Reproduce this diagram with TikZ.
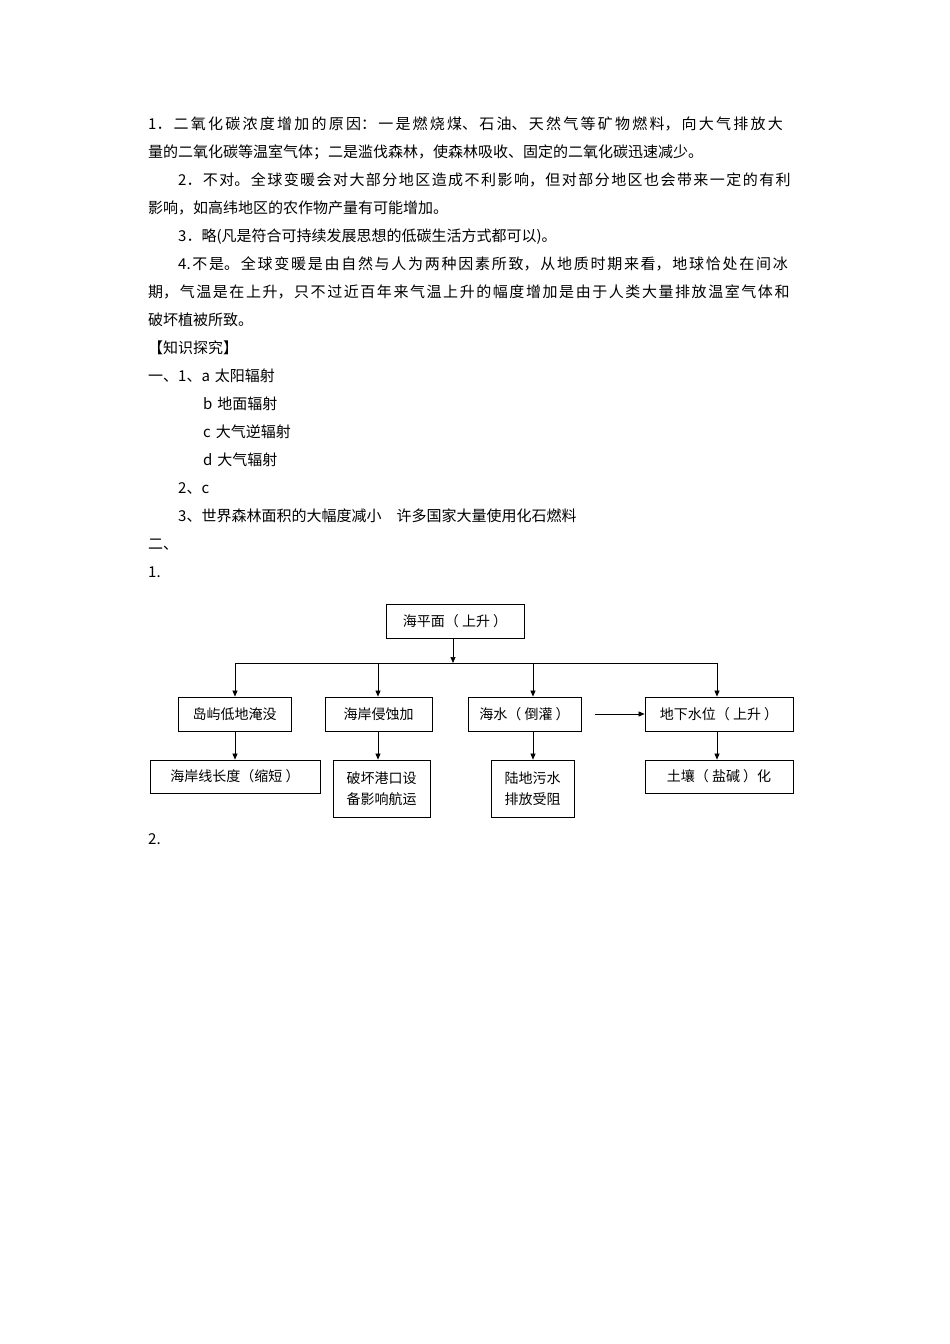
\documentclass[tikz,border=0pt]{standalone}
\usepackage{fontspec}
\setmainfont{Noto Sans CJK SC}
\usetikzlibrary{arrows.meta}
\XeTeXlinebreaklocale "zh"
\XeTeXlinebreakskip=0pt plus 3pt
\tikzset{bx/.style={draw,line width=0.8pt,inner sep=0pt,font=\fontsize{14}{21}\selectfont,align=center},
 ar/.style={-{Triangle[length=6pt,width=5pt]},line width=0.7pt}}
\begin{document}
\begin{tikzpicture}[x=1pt,y=-1pt]
\useasboundingbox[fill=white] (0,0) rectangle (950,1344);
\node[anchor=north west,inner sep=0pt,text width=657pt,font=\fontsize{15}{28}\selectfont] (txt) at (148,117) {%
\setlength{\parindent}{30pt}\setlength{\parskip}{0pt}%
1．二氧化碳浓度增加的原因：一是燃烧煤、石油、天然气等矿物燃料，向大气排放大\linebreak 量的二氧化碳等温室气体；二是滥伐森林，使森林吸收、固定的二氧化碳迅速减少。\par
2．不对。全球变暖会对大部分地区造成不利影响，但对部分地区也会带来一定的有利\linebreak 影响，如高纬地区的农作物产量有可能增加。\par
3．略(凡是符合可持续发展思想的低碳生活方式都可以)。\par
4.不是。全球变暖是由自然与人为两种因素所致，从地质时期来看，地球恰处在间冰\linebreak 期，气温是在上升，只不过近百年来气温上升的幅度增加是由于人类大量排放温室气体和\linebreak 破坏植被所致。\par
\noindent【知识探究】\par
\noindent 一、1、a 太阳辐射\par
\hspace*{25pt}b 地面辐射\par
\hspace*{25pt}c 大气逆辐射\par
\hspace*{25pt}d 大气辐射\par
2、c\par
3、世界森林面积的大幅度减小\quad 许多国家大量使用化石燃料\par
\noindent 二、\par
\noindent 1.\par};
\node[anchor=west,inner sep=0pt,font=\fontsize{15}{28}\selectfont] (two) at (148,839) {2.};
% diagram
\node[bx,minimum width=138pt,minimum height=34pt] (top) at (455,621) {海平面（ 上升 ）};
\node[bx,minimum width=113pt,minimum height=34pt] (a1) at (234.5,714) {岛屿低地淹没};
\node[bx,minimum width=107pt,minimum height=34pt] (b1) at (378.5,714) {海岸侵蚀加};
\node[bx,minimum width=113pt,minimum height=34pt] (c1) at (524.5,714) {海水（ 倒灌 ）};
\node[bx,minimum width=148pt,minimum height=34pt] (d1) at (719,714) {地下水位（ 上升 ）};
\node[bx,minimum width=170pt,minimum height=33pt] (a2) at (235,776.5) {海岸线长度（缩短 ）};
\node[bx,minimum width=97pt,minimum height=57pt] (b2) at (381.5,788.5) {破坏港口设\\备影响航运};
\node[bx,minimum width=83pt,minimum height=57pt] (c2) at (532.5,788.5) {陆地污水\\排放受阻};
\node[bx,minimum width=148pt,minimum height=33pt] (d2) at (719,776.5) {土壤（ 盐碱 ）化};
\coordinate (jn) at (453,663);
\coordinate (hl) at (235,663);
\coordinate (hr) at (717,663);
\coordinate (ho) at (595,714);
\draw[ar] (top.south -| jn) -- (jn);
\draw[line width=0.7pt] (hl) -- (hr);
\draw[ar] (hl) -- (hl |- a1.north);
\draw[ar] (378,663) coordinate (hb) -- (hb |- b1.north);
\draw[ar] (533,663) coordinate (hc) -- (hc |- c1.north);
\draw[ar] (hr) -- (hr |- d1.north);
\draw[ar] (ho) -- (d1.west |- ho);
\draw[ar] (hl |- a1.south) -- (hl |- a2.north);
\draw[ar] (hb |- b1.south) -- (hb |- b2.north);
\draw[ar] (hc |- c1.south) -- (hc |- c2.north);
\draw[ar] (hr |- d1.south) -- (hr |- d2.north);
\end{tikzpicture}
\end{document}
